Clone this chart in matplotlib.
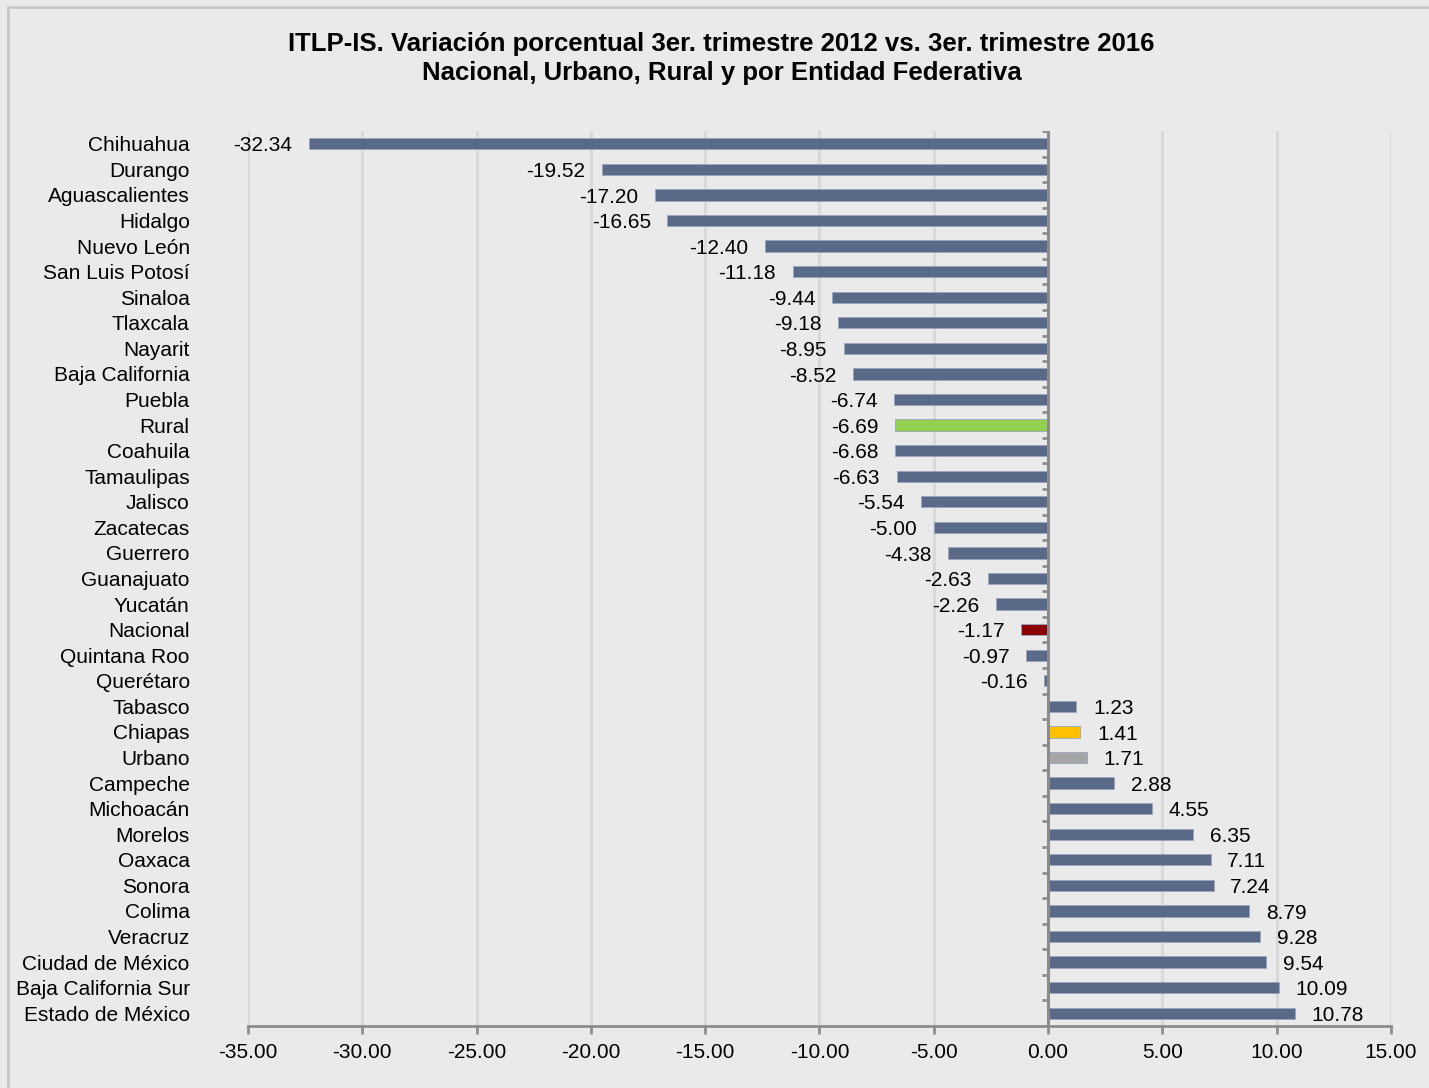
import numpy as np
import matplotlib.pyplot as plt
from matplotlib.patches import Rectangle

plt.rcParams['font.family'] = ['Liberation Sans', 'DejaVu Sans']

estados = ['Chihuahua', 'Durango', 'Aguascalientes', 'Hidalgo', 'Nuevo León',
           'San Luis Potosí', 'Sinaloa', 'Tlaxcala', 'Nayarit', 'Baja California',
           'Puebla', 'Rural', 'Coahuila', 'Tamaulipas', 'Jalisco', 'Zacatecas',
           'Guerrero', 'Guanajuato', 'Yucatán', 'Nacional', 'Quintana Roo',
           'Querétaro', 'Tabasco', 'Chiapas', 'Urbano', 'Campeche', 'Michoacán',
           'Morelos', 'Oaxaca', 'Sonora', 'Colima', 'Veracruz', 'Ciudad de México',
           'Baja California Sur', 'Estado de México']
variacion = [-32.34, -19.52, -17.20, -16.65, -12.40, -11.18, -9.44, -9.18, -8.95,
             -8.52, -6.74, -6.69, -6.68, -6.63, -5.54, -5.00, -4.38, -2.63, -2.26,
             -1.17, -0.97, -0.16, 1.23, 1.41, 1.71, 2.88, 4.55, 6.35, 7.11, 7.24,
             8.79, 9.28, 9.54, 10.09, 10.78]
xticks = [-35, -30, -25, -20, -15, -10, -5, 0, 5, 10, 15]

base = '#5A6987'
especiales = {'Rural': '#92D050', 'Nacional': '#8B0000',
              'Chiapas': '#FFC000', 'Urbano': '#A5A5A5'}
colores = [especiales.get(e, base) for e in estados]

bg = '#EAEAEA'
fig = plt.figure(figsize=(14.29, 10.88), dpi=100, facecolor=bg)
ax = fig.add_axes([248/1429, 1 - 1026/1088, (1391 - 248)/1429, (1026 - 131)/1088])
ax.set_facecolor(bg)

# marco exterior
fig.patches.append(Rectangle((8/1429, -0.01), 1.0, 1 - 7/1088 + 0.01,
                             transform=fig.transFigure, fill=False,
                             edgecolor='#C8C8C8', linewidth=2))

y = np.arange(len(estados))
ax.barh(y, variacion, height=0.44, color=colores, edgecolor='#9AA6BE',
        linewidth=0.6, zorder=3)

for yi, v in zip(y, variacion):
    off = 12 if v > 0 else -12
    ax.annotate('%.2f' % v, (v, yi), xytext=(off, -1.5), textcoords='offset points',
                ha='left' if v > 0 else 'right', va='center', fontsize=15,
                color='black')

ax.set_xlim(-35, 15)
ax.set_ylim(len(estados) - 0.5, -0.5)
ax.set_xticks(xticks)
ax.set_xticklabels(['%.2f' % t for t in xticks], fontsize=15)
ax.set_yticks(y)
ax.set_yticklabels(estados, fontsize=15)
ax.tick_params(axis='y', length=0, pad=42)
ax.tick_params(axis='x', length=6, width=2, color='#8C8C8C', pad=6)

ax.xaxis.grid(True, color='#D9D9D9', linewidth=2.2, zorder=0)
ax.set_axisbelow(True)
for s in ['top', 'right', 'left']:
    ax.spines[s].set_visible(False)
ax.spines['bottom'].set_color('#8C8C8C')
ax.spines['bottom'].set_linewidth(2)

# eje vertical en cero con marcas entre categorias
ax.axvline(0, color='#8C8C8C', linewidth=2.2, zorder=4)
limites = np.arange(len(estados) + 1) - 0.5
ax.hlines(limites, -0.28, 0, color='#8C8C8C', linewidth=2, zorder=4)

fig.text(0.505, 1 - 44/1088, 'ITLP-IS. Variación porcentual 3er. trimestre 2012 vs. 3er. trimestre 2016',
         ha='center', va='center', fontsize=18.5, fontweight='bold')
fig.text(0.505, 1 - 73/1088, 'Nacional, Urbano, Rural y por Entidad Federativa',
         ha='center', va='center', fontsize=18.5, fontweight='bold')

fig.savefig('out.png', dpi=100, facecolor=bg)
